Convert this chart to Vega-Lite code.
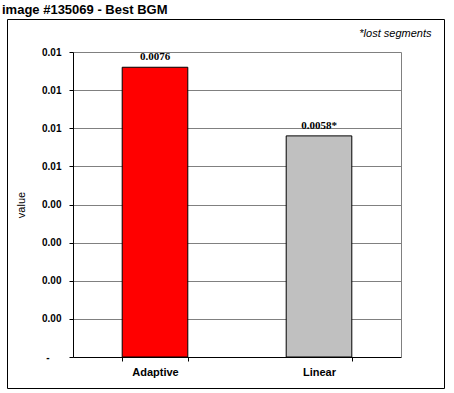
{
  "$schema": "https://vega.github.io/schema/vega-lite/v6.json",
  "width": 437,
  "height": 369,
  "autosize": "none",
  "padding": {"left": 7, "top": 19, "right": 10, "bottom": 5},
  "background": "white",
  "title": {
    "text": "image #135069 - Best BGM",
    "anchor": "start",
    "frame": "group",
    "font": "Liberation Sans",
    "fontSize": 13,
    "fontWeight": "bold",
    "color": "black",
    "offset": 2,
    "dx": -5
  },
  "config": {
    "view": {"stroke": "black", "strokeWidth": 1},
    "axis": {"labelColor": "black", "titleColor": "black"}
  },
  "data": {
    "values": [
      {"category": "Adaptive", "value": 0.0076, "label": "0.0076"},
      {"category": "Linear", "value": 0.0058, "label": "0.0058*"}
    ]
  },
  "layer": [
    {
      "mark": {"type": "bar", "stroke": "black", "strokeWidth": 1},
      "encoding": {
        "x": {
          "field": "category",
          "type": "nominal",
          "sort": null,
          "scale": {"range": [66, 394], "paddingInner": 0.6, "paddingOuter": 0.3},
          "axis": {
            "orient": "bottom",
            "offset": -31,
            "title": null,
            "labelAngle": 0,
            "domainColor": "black",
            "tickColor": "black",
            "tickSize": 4,
            "tickBand": "extent",
            "grid": false,
            "labelFont": "Liberation Sans",
            "labelFontWeight": "bold",
            "labelFontSize": 11,
            "labelPadding": 5
          }
        },
        "y": {
          "field": "value",
          "type": "quantitative",
          "scale": {"domain": [0, 0.008], "range": [338, 33], "nice": false, "zero": true},
          "axis": {
            "orient": "left",
            "offset": -66,
            "title": "value",
            "values": [0, 0.001, 0.002, 0.003, 0.004, 0.005, 0.006, 0.007, 0.008],
            "labelExpr": "datum.value == 0 ? '-' : (datum.value >= 0.0045 ? '0.01' : '0.00')",
            "labelPadding": {"condition": {"test": "datum.value == 0", "value": 20}, "value": 8},
            "grid": true,
            "gridColor": "#808080",
            "gridOpacity": 1,
            "domainColor": "black",
            "tickColor": "black",
            "tickSize": 4,
            "labelFont": "Liberation Sans",
            "labelFontSize": 10,
            "labelFontWeight": "bold",
            "titleFont": "Liberation Sans",
            "titleFontSize": 11,
            "titleFontWeight": "normal",
            "titleX": -52,
            "titleBaseline": "middle"
          }
        },
        "fill": {
          "field": "category",
          "type": "nominal",
          "scale": {"domain": ["Adaptive", "Linear"], "range": ["#FF0000", "#C0C0C0"]},
          "legend": null
        }
      }
    },
    {
      "mark": {
        "type": "text",
        "font": "Liberation Serif",
        "fontWeight": "bold",
        "fontSize": 11,
        "baseline": "alphabetic",
        "dy": -7,
        "fill": "black"
      },
      "encoding": {
        "x": {
          "field": "category",
          "type": "nominal",
          "sort": null,
          "axis": {
            "orient": "top",
            "title": "*lost segments",
            "domain": false,
            "ticks": false,
            "labels": false,
            "grid": false,
            "titleX": 424,
            "titleY": 14,
            "titleAlign": "right",
            "titleAnchor": null,
            "titleBaseline": "middle",
            "titleFont": "Liberation Sans",
            "titleFontStyle": "italic",
            "titleFontWeight": "normal",
            "titleFontSize": 11
          }
        },
        "y": {
          "field": "value",
          "type": "quantitative",
          "axis": {
            "orient": "right",
            "offset": -43,
            "title": null,
            "labels": false,
            "ticks": false,
            "grid": false,
            "domainColor": "#808080"
          }
        },
        "text": {"field": "label"}
      }
    }
  ],
  "resolve": {"axis": {"x": "independent", "y": "independent"}}
}
